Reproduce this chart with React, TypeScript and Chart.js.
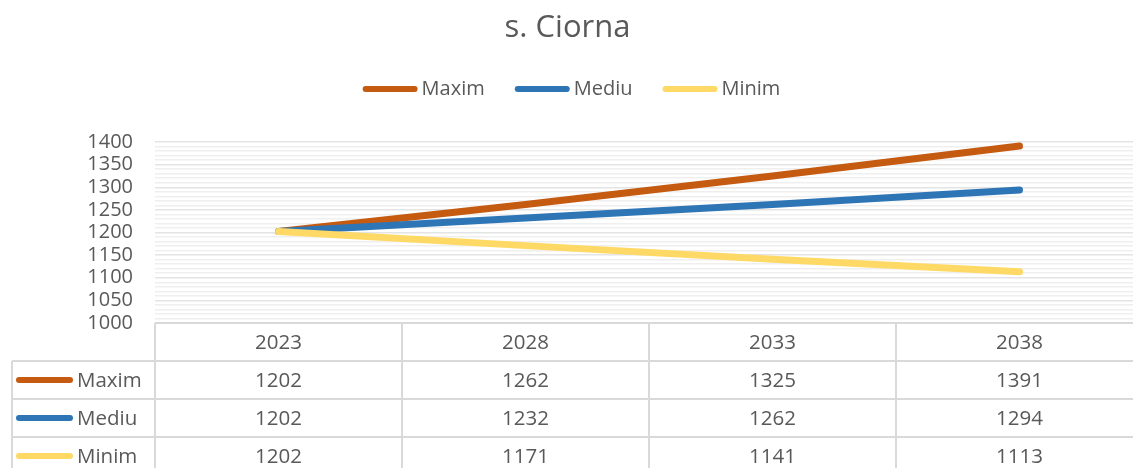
import React, { useEffect, useRef } from "react";
import { Chart, registerables } from "chart.js";

Chart.register(...registerables);

const title = "s. Ciorna";
const years = ["2023", "2028", "2033", "2038"];
const seriesNames = ["Maxim", "Mediu", "Minim"];
const maxim = [1202, 1262, 1325, 1391];
const mediu = [1202, 1232, 1262, 1294];
const minim = [1202, 1171, 1141, 1113];
const seriesColors = ["#C55A11", "#2E75B6", "#FFD966"];
const yMin = 1000;
const yMax = 1400;
const yStep = 10;
const yLabelStep = 50;

const FONT = "'Open Sans', 'Liberation Sans', sans-serif";
const TEXT = "#595959";
const TABLE_LINE = "#d9d9d9";

const seriesValues = [maxim, mediu, minim];

const overlayPlugin = {
  id: "overlay",
  afterDraw(chart: any) {
    const ctx = chart.ctx;
    const x = chart.scales.x;
    const area = chart.chartArea;
    const W = 1133;
    ctx.save();

    // Title
    ctx.fillStyle = TEXT;
    ctx.font = `31px ${FONT}`;
    ctx.textAlign = "center";
    ctx.textBaseline = "middle";
    ctx.fillText(title, W / 2 + 1, 28);

    // Top legend
    ctx.font = `20px ${FONT}`;
    const lineLen = 55;
    const gapText = 4;
    const gapItem = 30;
    const widths = seriesNames.map((n) => ctx.measureText(n).width);
    const total =
      widths.reduce((a, b) => a + b, 0) + seriesNames.length * (lineLen + gapText) + gapItem * (seriesNames.length - 1);
    let lx = W / 2 + 5 - total / 2;
    const ly = 89;
    seriesNames.forEach((n, i) => {
      ctx.strokeStyle = seriesColors[i];
      ctx.lineWidth = 6;
      ctx.lineCap = "round";
      ctx.beginPath();
      ctx.moveTo(lx + 3, ly);
      ctx.lineTo(lx + lineLen - 3, ly);
      ctx.stroke();
      ctx.fillStyle = TEXT;
      ctx.textAlign = "left";
      ctx.fillText(n, lx + lineLen + gapText, ly);
      lx += lineLen + gapText + widths[i] + gapItem;
    });

    // Data table
    const half = (x.getPixelForValue(1) - x.getPixelForValue(0)) / 2;
    const left = area.left;
    const right = area.right;
    const top = area.bottom;
    const rowH = 38;
    const tableLeft = 12;
    ctx.strokeStyle = TABLE_LINE;
    ctx.lineWidth = 2;
    ctx.lineCap = "butt";
    ctx.beginPath();
    ctx.moveTo(left, top);
    ctx.lineTo(right, top);
    for (let r = 1; r <= seriesNames.length; r++) {
      const yy = top + rowH * r;
      ctx.moveTo(tableLeft, yy);
      ctx.lineTo(right, yy);
    }
    for (let c = 0; c <= years.length; c++) {
      const xx = c < years.length ? x.getPixelForValue(c) - half : x.getPixelForValue(years.length - 1) + half;
      ctx.moveTo(xx, top);
      ctx.lineTo(xx, top + rowH * (seriesNames.length + 1));
    }
    ctx.moveTo(tableLeft, top + rowH);
    ctx.lineTo(tableLeft, top + rowH * (seriesNames.length + 1));
    ctx.stroke();

    ctx.font = `20.5px ${FONT}`;
    ctx.fillStyle = TEXT;
    ctx.textAlign = "center";
    ctx.textBaseline = "middle";
    years.forEach((yv, c) => {
      ctx.fillText(yv, x.getPixelForValue(c), top + rowH / 2 + 1);
    });
    seriesNames.forEach((n, r) => {
      const cy = top + rowH * (r + 1) + rowH / 2 + 1;
      ctx.strokeStyle = seriesColors[r];
      ctx.lineWidth = 6;
      ctx.lineCap = "round";
      ctx.beginPath();
      ctx.moveTo(19, cy - 1);
      ctx.lineTo(70, cy - 1);
      ctx.stroke();
      ctx.fillStyle = TEXT;
      ctx.textAlign = "left";
      ctx.fillText(n, 77, cy);
      ctx.textAlign = "center";
      seriesValues[r].forEach((v, c) => {
        ctx.fillText(String(v), x.getPixelForValue(c), cy);
      });
    });
    ctx.restore();
  },
};

export default function App() {
  const ref = useRef<HTMLCanvasElement | null>(null);
  useEffect(() => {
    document.body.style.margin = "0";
    const canvas = ref.current;
    if (!canvas) return;
    const chart = new Chart(canvas, {
      type: "line",
      data: {
        labels: years,
        datasets: seriesNames.map((n, i) => ({
          label: n,
          data: seriesValues[i],
          borderColor: seriesColors[i],
          backgroundColor: seriesColors[i],
          borderWidth: 7,
          borderCapStyle: "round",
          borderJoinStyle: "round",
          pointRadius: 0,
          tension: 0,
          clip: false,
          order: 2 - i,
        })),
      },
      options: {
        responsive: false,
        animation: false,
        devicePixelRatio: 1,
        layout: { padding: { top: 142, bottom: 145, left: 0, right: 0 } },
        plugins: {
          legend: { display: false },
          title: { display: false },
          tooltip: { enabled: false },
        },
        scales: {
          x: {
            type: "category",
            display: false,
            offset: true,
          },
          y: {
            min: yMin,
            max: yMax,
            border: { display: false },
            grid: {
              drawTicks: false,
              color: (c: any) =>
                c.tick && c.tick.value === yMin
                  ? "rgba(0,0,0,0)"
                  : c.tick && c.tick.value % yLabelStep === 0
                  ? "#e4e4e4"
                  : "#efefef",
              lineWidth: 1.5,
            },
            ticks: {
              stepSize: yStep,
              autoSkip: false,
              padding: 22,
              color: TEXT,
              font: { family: FONT, size: 20 },
              callback: (v: any) => (Number(v) % yLabelStep === 0 ? String(v) : ""),
            },
            afterFit: (s: any) => {
              s.width = 155;
            },
          },
        },
      },
      plugins: [overlayPlugin],
    } as any);
    return () => chart.destroy();
  }, []);
  return (
    <div style={{ width: 1133, height: 468, overflow: "hidden", position: "relative", background: "#fff" }}>
      <canvas ref={ref} width={1143} height={468} style={{ display: "block" }} />
    </div>
  );
}
